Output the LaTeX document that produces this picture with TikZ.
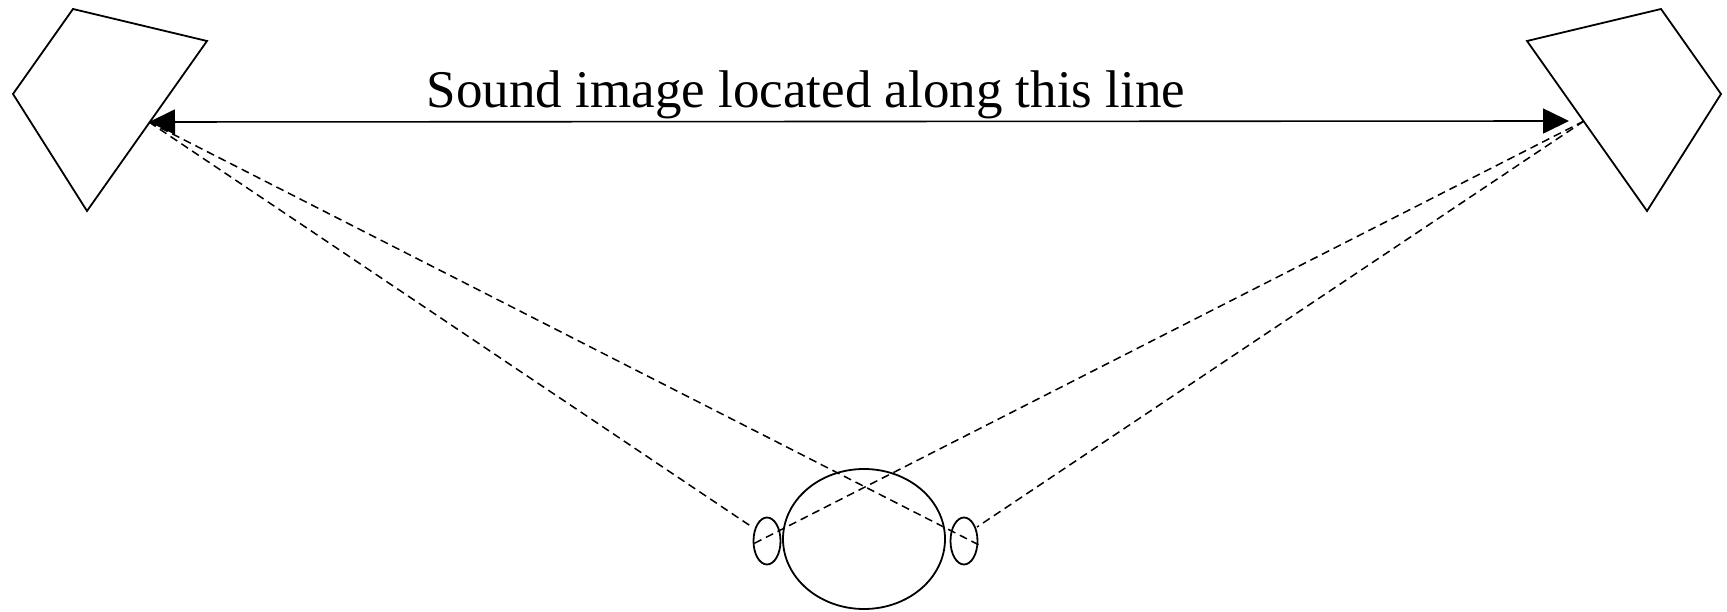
\documentclass[tikz,border=0pt]{standalone}
\usepackage{fontspec}
\setmainfont{Liberation Serif}
\usetikzlibrary{arrows.meta,shapes.geometric}
\begin{document}
\begin{tikzpicture}[x=1pt,y=-1pt,
  outline/.style={line width=1.8pt, line join=miter},
  ray/.style={line width=1.5pt, dash pattern=on 8pt off 5pt},
  ear/.style={ellipse, draw, line width=1.8pt, inner sep=0pt, minimum width=27pt, minimum height=47pt},
  headshape/.style={ellipse, draw, line width=1.8pt, inner sep=0pt, minimum width=162pt, minimum height=140pt},
  label/.style={font=\fontsize{53}{58}\selectfont, inner sep=0pt, anchor=base}]
\useasboundingbox (0,0) rectangle (1727,612);
% speakers
\draw[outline] (73,9) -- (207,41) -- (87,211) -- (13,94) -- cycle;
\draw[outline] (1661,9) -- (1721,94) -- (1647,211) -- (1527,41) -- cycle;
\coordinate (spkL) at (149,122);
\coordinate (spkR) at (1584,121);
\coordinate (tipR) at (1569,121);
% head and ears
\node[headshape] (head) at (864,539) {};
\node[ear] (earL) at (767,541) {};
\node[ear] (earR) at (964,541) {};
\coordinate (eLa) at (752,527);
\coordinate (eLb) at (753,544);
\coordinate (eRa) at (981,546);
\coordinate (eRb) at (977,527);
% rays
\draw[ray] (spkL) -- (eLa);
\draw[ray] (spkL) -- (eRa);
\draw[ray] (spkR) -- (eLb);
\draw[ray] (spkR) -- (eRb);
% arrow
\draw[line width=1.6pt, {Triangle[length=26pt,width=25pt]}-{Triangle[length=26pt,width=25pt]}] (spkL) -- (tipR);
\node[label] (txt) at (806,108) {Sound image located along this line};
\end{tikzpicture}
\end{document}
